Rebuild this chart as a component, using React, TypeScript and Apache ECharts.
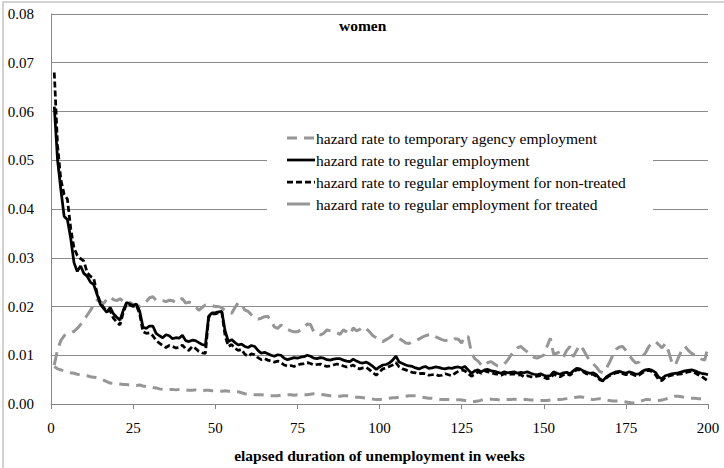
import { useEffect, useRef } from "react";
import * as echarts from "echarts";

// elapsed weeks 1..200
const weeks: number[] = Array.from({ length: 200 }, (_, i) => i + 1);

const tempAgency: number[] = [
  0.0077, 0.0072, 0.0070, 0.0068, 0.0066, 0.0064, 0.0063, 0.0061, 0.0060, 0.0059,
  0.0058, 0.0056, 0.0055, 0.0054, 0.0052, 0.0049, 0.0046, 0.0043, 0.0042, 0.0042,
  0.0041, 0.0040, 0.0040, 0.0039, 0.0038, 0.0038, 0.0039, 0.0037, 0.0036, 0.0036,
  0.0034, 0.0033, 0.0031, 0.0030, 0.0029, 0.0030, 0.0030, 0.0029, 0.0030, 0.0030,
  0.0029, 0.0028, 0.0028, 0.0029, 0.0028, 0.0027, 0.0028, 0.0028, 0.0027, 0.0027,
  0.0027, 0.0026, 0.0027, 0.0026, 0.0026, 0.0025, 0.0025, 0.0023, 0.0021, 0.0020,
  0.0020, 0.0019, 0.0019, 0.0019, 0.0018, 0.0018, 0.0017, 0.0017, 0.0017, 0.0018,
  0.0019, 0.0019, 0.0019, 0.0018, 0.0019, 0.0019, 0.0019, 0.0019, 0.0020, 0.0021,
  0.0021, 0.0020, 0.0019, 0.0018, 0.0017, 0.0017, 0.0017, 0.0016, 0.0017, 0.0017,
  0.0016, 0.0015, 0.0014, 0.0014, 0.0013, 0.0012, 0.0011, 0.0010, 0.0009, 0.0009,
  0.0010, 0.0011, 0.0012, 0.0013, 0.0013, 0.0014, 0.0015, 0.0016, 0.0017, 0.0017,
  0.0017, 0.0016, 0.0014, 0.0013, 0.0012, 0.0012, 0.0011, 0.0010, 0.0009, 0.0009,
  0.0009, 0.0008, 0.0008, 0.0009, 0.0008, 0.0007, 0.0006, 0.0005, 0.0005, 0.0006,
  0.0008, 0.0009, 0.0009, 0.0010, 0.0009, 0.0009, 0.0008, 0.0009, 0.0009, 0.0009,
  0.0010, 0.0009, 0.0008, 0.0009, 0.0009, 0.0008, 0.0008, 0.0007, 0.0007, 0.0007,
  0.0007, 0.0008, 0.0009, 0.0009, 0.0009, 0.0010, 0.0011, 0.0012, 0.0013, 0.0014,
  0.0015, 0.0014, 0.0012, 0.0010, 0.0009, 0.0010, 0.0011, 0.0010, 0.0008, 0.0007,
  0.0006, 0.0006, 0.0006, 0.0005, 0.0004, 0.0003, 0.0002, 0.0003, 0.0005, 0.0007,
  0.0009, 0.0009, 0.0008, 0.0007, 0.0007, 0.0008, 0.0010, 0.0012, 0.0014, 0.0016,
  0.0016, 0.0015, 0.0013, 0.0012, 0.0012, 0.0012, 0.0011, 0.0011, 0.0012, 0.0012,
];

const regular: number[] = [
  0.0610, 0.0500, 0.0440, 0.0385, 0.0378, 0.0340, 0.0290, 0.0272, 0.0283, 0.0268,
  0.0262, 0.0250, 0.0245, 0.0225, 0.0205, 0.0196, 0.0188, 0.0198, 0.0185, 0.0178,
  0.0172, 0.0192, 0.0208, 0.0205, 0.0202, 0.0205, 0.0190, 0.0158, 0.0155, 0.0160,
  0.0160, 0.0145, 0.0140, 0.0136, 0.0142, 0.0140, 0.0134, 0.0136, 0.0135, 0.0141,
  0.0130, 0.0128, 0.0131, 0.0130, 0.0126, 0.0122, 0.0120, 0.0180, 0.0187, 0.0187,
  0.0189, 0.0190, 0.0150, 0.0128, 0.0132, 0.0126, 0.0121, 0.0123, 0.0118, 0.0116,
  0.0120, 0.0118, 0.0110, 0.0104, 0.0106, 0.0103, 0.0100, 0.0098, 0.0101, 0.0100,
  0.0094, 0.0091, 0.0093, 0.0095, 0.0094, 0.0096, 0.0097, 0.0100, 0.0098, 0.0094,
  0.0093, 0.0095, 0.0094, 0.0091, 0.0090, 0.0092, 0.0093, 0.0093, 0.0090, 0.0088,
  0.0087, 0.0092, 0.0088, 0.0085, 0.0084, 0.0086, 0.0082, 0.0077, 0.0071, 0.0076,
  0.0080, 0.0081, 0.0084, 0.0090, 0.0098, 0.0086, 0.0083, 0.0080, 0.0078, 0.0077,
  0.0074, 0.0072, 0.0075, 0.0077, 0.0073, 0.0074, 0.0076, 0.0075, 0.0073, 0.0072,
  0.0074, 0.0073, 0.0075, 0.0076, 0.0074, 0.0077, 0.0070, 0.0063, 0.0068, 0.0070,
  0.0066, 0.0070, 0.0071, 0.0068, 0.0067, 0.0065, 0.0063, 0.0066, 0.0064, 0.0065,
  0.0066, 0.0063, 0.0065, 0.0064, 0.0066, 0.0063, 0.0061, 0.0060, 0.0062, 0.0059,
  0.0057, 0.0058, 0.0066, 0.0063, 0.0061, 0.0064, 0.0065, 0.0062, 0.0068, 0.0073,
  0.0072, 0.0068, 0.0065, 0.0063, 0.0064, 0.0060, 0.0052, 0.0048, 0.0055, 0.0060,
  0.0063, 0.0066, 0.0067, 0.0065, 0.0063, 0.0066, 0.0064, 0.0061, 0.0062, 0.0067,
  0.0070, 0.0071, 0.0069, 0.0065, 0.0055, 0.0052, 0.0058, 0.0060, 0.0062, 0.0063,
  0.0064, 0.0066, 0.0068, 0.0069, 0.0070, 0.0068, 0.0065, 0.0063, 0.0062, 0.0060,
];

const nonTreated: number[] = [
  0.0680, 0.0530, 0.0460, 0.0430, 0.0420, 0.0360, 0.0320, 0.0305, 0.0298, 0.0293,
  0.0270, 0.0262, 0.0258, 0.0228, 0.0208, 0.0198, 0.0190, 0.0192, 0.0176, 0.0168,
  0.0162, 0.0188, 0.0205, 0.0203, 0.0200, 0.0202, 0.0185, 0.0148, 0.0145, 0.0146,
  0.0140, 0.0130, 0.0125, 0.0120, 0.0116, 0.0120, 0.0118, 0.0115, 0.0116, 0.0121,
  0.0113, 0.0110, 0.0118, 0.0114, 0.0108, 0.0105, 0.0104, 0.0178, 0.0185, 0.0185,
  0.0187, 0.0188, 0.0140, 0.0118, 0.0122, 0.0114, 0.0110, 0.0112, 0.0102, 0.0098,
  0.0103, 0.0101, 0.0095, 0.0091, 0.0093, 0.0090, 0.0088, 0.0086, 0.0088, 0.0085,
  0.0080, 0.0078, 0.0079, 0.0077, 0.0080, 0.0082, 0.0083, 0.0085, 0.0083, 0.0080,
  0.0081, 0.0082, 0.0079, 0.0077, 0.0078, 0.0080, 0.0082, 0.0081, 0.0078, 0.0076,
  0.0077, 0.0080, 0.0074, 0.0072, 0.0074, 0.0075, 0.0070, 0.0064, 0.0059, 0.0066,
  0.0072, 0.0074, 0.0077, 0.0080, 0.0085, 0.0076, 0.0072, 0.0070, 0.0067, 0.0065,
  0.0064, 0.0062, 0.0063, 0.0062, 0.0059, 0.0060, 0.0061, 0.0058, 0.0059, 0.0062,
  0.0060, 0.0058, 0.0063, 0.0067, 0.0070, 0.0068, 0.0062, 0.0057, 0.0061, 0.0066,
  0.0063, 0.0068, 0.0066, 0.0064, 0.0062, 0.0061, 0.0059, 0.0062, 0.0060, 0.0061,
  0.0062, 0.0059, 0.0060, 0.0056, 0.0058, 0.0056, 0.0055, 0.0057, 0.0058, 0.0055,
  0.0052, 0.0053, 0.0061, 0.0058, 0.0056, 0.0060, 0.0062, 0.0059, 0.0065, 0.0070,
  0.0070, 0.0066, 0.0062, 0.0060, 0.0061, 0.0057, 0.0050, 0.0047, 0.0053, 0.0058,
  0.0061, 0.0064, 0.0065, 0.0062, 0.0060, 0.0063, 0.0061, 0.0058, 0.0059, 0.0064,
  0.0068, 0.0069, 0.0066, 0.0060, 0.0050, 0.0048, 0.0055, 0.0057, 0.0059, 0.0060,
  0.0061, 0.0062, 0.0064, 0.0066, 0.0067, 0.0064, 0.0060, 0.0057, 0.0052, 0.0047,
];

const treated: number[] = [
  0.0080, 0.0112, 0.0130, 0.0140, 0.0144, 0.0146, 0.0149, 0.0155, 0.0163, 0.0172,
  0.0182, 0.0192, 0.0203, 0.0213, 0.0210, 0.0206, 0.0215, 0.0220, 0.0214, 0.0212,
  0.0216, 0.0210, 0.0206, 0.0208, 0.0204, 0.0202, 0.0200, 0.0205, 0.0210, 0.0218,
  0.0220, 0.0213, 0.0211, 0.0212, 0.0210, 0.0213, 0.0212, 0.0208, 0.0214, 0.0216,
  0.0207, 0.0209, 0.0206, 0.0200, 0.0192, 0.0198, 0.0203, 0.0204, 0.0202, 0.0200,
  0.0200, 0.0197, 0.0192, 0.0188, 0.0186, 0.0198, 0.0208, 0.0204, 0.0193, 0.0190,
  0.0183, 0.0176, 0.0174, 0.0176, 0.0179, 0.0180, 0.0170, 0.0158, 0.0155, 0.0162,
  0.0158, 0.0153, 0.0150, 0.0148, 0.0148, 0.0152, 0.0158, 0.0164, 0.0163, 0.0148,
  0.0143, 0.0142, 0.0145, 0.0152, 0.0150, 0.0148, 0.0146, 0.0143, 0.0152, 0.0148,
  0.0143, 0.0156, 0.0150, 0.0153, 0.0158, 0.0154, 0.0148, 0.0140, 0.0136, 0.0132,
  0.0128, 0.0132, 0.0136, 0.0141, 0.0138, 0.0134, 0.0130, 0.0125, 0.0124, 0.0128,
  0.0130, 0.0133, 0.0137, 0.0140, 0.0142, 0.0143, 0.0138, 0.0135, 0.0132, 0.0130,
  0.0131, 0.0130, 0.0134, 0.0133, 0.0125, 0.0140, 0.0138, 0.0105, 0.0093, 0.0088,
  0.0080, 0.0078, 0.0085, 0.0087, 0.0082, 0.0078, 0.0079, 0.0082, 0.0090, 0.0100,
  0.0108, 0.0115, 0.0118, 0.0112, 0.0107, 0.0101, 0.0096, 0.0094, 0.0097, 0.0100,
  0.0118, 0.0135, 0.0102, 0.0104, 0.0108, 0.0097, 0.0110, 0.0118, 0.0097, 0.0110,
  0.0121, 0.0112, 0.0100, 0.0088, 0.0083, 0.0076, 0.0067, 0.0064, 0.0072, 0.0085,
  0.0100, 0.0112, 0.0117, 0.0118, 0.0110, 0.0100, 0.0091, 0.0084, 0.0086, 0.0098,
  0.0105, 0.0118, 0.0125, 0.0128, 0.0122, 0.0115, 0.0124, 0.0108, 0.0085, 0.0079,
  0.0095, 0.0110, 0.0118, 0.0110, 0.0104, 0.0100, 0.0097, 0.0092, 0.0090, 0.0118,
];

const seriesNames = [
  "hazard rate to temporary agency employment",
  "hazard rate to regular employment",
  "hazard rate to regular employment for non-treated",
  "hazard rate to regular employment for treated",
];

const titleText = "women";
const xAxisName = "elapsed duration of unemployment in weeks";

export default function App() {
  const ref = useRef<HTMLDivElement>(null);

  useEffect(() => {
    if (!ref.current) return;
    const chart = echarts.init(ref.current, null, { renderer: "svg" });
    const font = "Liberation Serif";
    const gray = "#969696";
    const axisGray = "#868686";
    const pair = (vals: number[]) => weeks.map((w, i) => [w, vals[i]]);

    const styles = [
      { color: gray, width: 3, dash: [10, 7] as number[] | null },
      { color: "#000", width: 2.75, dash: null as number[] | null },
      { color: "#000", width: 2.75, dash: [6, 3] as number[] | null },
      { color: gray, width: 3, dash: [13, 7] as number[] | null },
    ];

    // Excel-like legend: line sample + text on a white box
    const legendX = 287;
    const legendY0 = 138;
    const legendStep = 22;
    const legendItems: any[] = [
      {
        type: "rect",
        z: 100,
        shape: { x: 267, y: 121, width: 386, height: 96 },
        style: { fill: "#ffffff", stroke: "none" },
        silent: true,
      },
    ];
    seriesNames.forEach((name, i) => {
      const y = legendY0 + i * legendStep;
      const s = styles[i];
      const lineLen = i === 3 ? 23 : 28;
      legendItems.push({
        type: "line",
        z: 101,
        shape: { x1: legendX, y1: y, x2: legendX + lineLen, y2: y },
        style: {
          stroke: s.color,
          lineWidth: s.width,
          lineDash: i === 3 ? null : s.dash,
        },
        silent: true,
      });
      legendItems.push({
        type: "text",
        z: 101,
        x: 316,
        y,
        style: {
          text: name,
          fontFamily: font,
          fontSize: 15.5,
          fill: "#000",
          align: "left",
          verticalAlign: "middle",
        },
        silent: true,
      });
    });

    chart.setOption({
      animation: false,
      backgroundColor: "#ffffff",
      title: {
        text: titleText,
        left: 339,
        top: 17,
        padding: 0,
        textStyle: { fontFamily: font, fontSize: 15.5, fontWeight: "bold", color: "#000" },
      },
      grid: { left: 51, right: 16, top: 14, bottom: 62, containLabel: false },
      graphic: [
        {
          type: "rect",
          z: -1,
          shape: { x: 3, y: 2, width: 800, height: 600 },
          style: { fill: "none", stroke: "#c4c4c4", lineWidth: 1.5 },
          silent: true,
        },
        ...legendItems,
      ],
      xAxis: {
        type: "value",
        min: 0,
        max: 200,
        interval: 25,
        name: xAxisName,
        nameLocation: "middle",
        nameGap: 43,
        nameTextStyle: { fontFamily: font, fontSize: 15.5, fontWeight: "bold", color: "#000" },
        axisLine: { show: true, onZero: false, lineStyle: { color: axisGray, width: 1 } },
        axisTick: { show: true, length: 5, lineStyle: { color: axisGray } },
        axisLabel: { color: "#000", fontFamily: font, fontSize: 15, margin: 16 },
        splitLine: { show: false },
      },
      yAxis: {
        type: "value",
        min: 0,
        max: 0.08,
        interval: 0.01,
        axisLine: { show: true, lineStyle: { color: axisGray, width: 1 } },
        axisTick: { show: false },
        axisLabel: {
          color: "#000",
          fontFamily: font,
          fontSize: 15,
          margin: 17,
          formatter: (v: number) => v.toFixed(2),
        },
        splitLine: { show: true, lineStyle: { color: "#8c8c8c", width: 1 } },
      },
      series: [
        {
          name: seriesNames[0],
          type: "line",
          data: pair(tempAgency),
          symbol: "none",
          itemStyle: { color: gray },
          lineStyle: { color: gray, width: styles[0].width, type: styles[0].dash, cap: "butt" },
        },
        {
          name: seriesNames[3],
          type: "line",
          data: pair(treated),
          symbol: "none",
          itemStyle: { color: gray },
          lineStyle: { color: gray, width: styles[3].width, type: styles[3].dash, cap: "butt" },
        },
        {
          name: seriesNames[2],
          type: "line",
          data: pair(nonTreated),
          symbol: "none",
          itemStyle: { color: "#000" },
          lineStyle: { color: "#000", width: styles[2].width, type: styles[2].dash, cap: "butt" },
        },
        {
          name: seriesNames[1],
          type: "line",
          data: pair(regular),
          symbol: "none",
          itemStyle: { color: "#000" },
          lineStyle: { color: "#000", width: styles[1].width, type: "solid" },
        },
      ],
    });

    return () => chart.dispose();
  }, []);

  return (
    <div
      ref={ref}
      style={{ position: "absolute", left: 0, top: 0, width: 724, height: 468, background: "#fff" }}
    />
  );
}
